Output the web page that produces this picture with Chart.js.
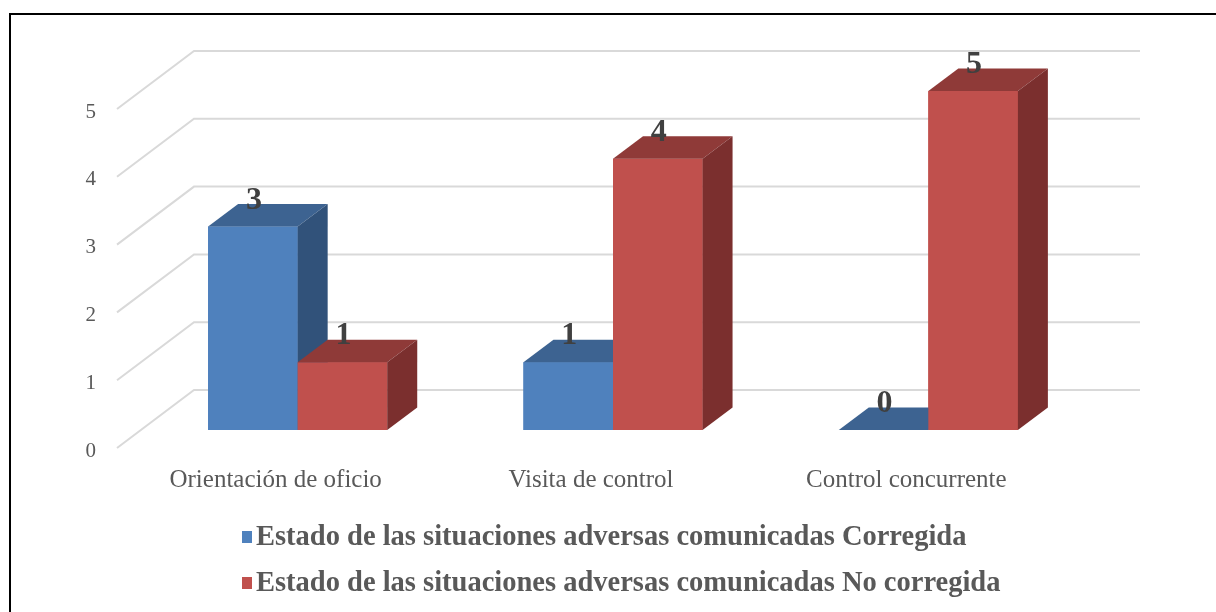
<!DOCTYPE html>
<html>
<head>
<meta charset="utf-8">
<script src="https://cdn.jsdelivr.net/npm/chart.js@4.4.0/dist/chart.umd.min.js"></script>
<style>
  html, body { margin: 0; padding: 0; background: #fff; overflow: hidden; }
  #wrap { position: relative; width: 1216px; height: 612px; }
  #marco { position: absolute; left: 9px; top: 13px; width: 1300px; height: 700px; border: 2px solid #000; box-sizing: border-box; }
  #caja-grafico { position: absolute; left: 0; top: 0; width: 1216px; height: 612px; }
  .leyenda { position: absolute; left: 242px; font: bold 28.5px "Liberation Serif", serif; color: #595959; white-space: nowrap; line-height: 1; }
  .leyenda .caja { display: inline-block; width: 10px; height: 12px; margin-right: 4px; vertical-align: 2px; }
</style>
</head>
<body>
<div id="wrap">
  <div id="marco"></div>
  <div id="caja-grafico"><canvas id="grafico"></canvas></div>
  <div class="leyenda" style="top:522px"><span class="caja" style="background:#4F81BD"></span><span id="ley0"></span></div>
  <div class="leyenda" style="top:568px"><span class="caja" style="background:#C0504D"></span><span id="ley1"></span></div>
</div>
<script>
const categorias = ['Orientación de oficio', 'Visita de control', 'Control concurrente'];
const corregida = [3, 1, 0];
const noCorregida = [1, 4, 5];
const ticksY = [0, 1, 2, 3, 4, 5];
const nombresSeries = [
  'Estado de las situaciones adversas comunicadas Corregida',
  'Estado de las situaciones adversas comunicadas No corregida'
];

// colores: frente, tapa, lado
const coloresSeries = [
  ['#4F81BD', '#3D6391', '#31527A'],
  ['#C0504D', '#8F3A38', '#7B2F2E']
];

document.getElementById('ley0').textContent = nombresSeries[0];
document.getElementById('ley1').textContent = nombresSeries[1];

// desplazamientos de la vista oblicua
const PROF_X = 30, PROF_Y = -22.5;   // fondo de cada barra
const FONDO_X = 54, FONDO_Y = -40;   // pared del fondo
const FRENTE_X = -23, FRENTE_Y = 18; // borde delantero del piso

const barras3d = {
  id: 'barras3d',
  beforeDatasetsDraw(chart) {
    const ctx = chart.ctx, a = chart.chartArea, y = chart.scales.y;
    ctx.save();
    ctx.strokeStyle = '#D9D9D9';
    ctx.lineWidth = 2;
    ticksY.forEach(v => {
      const py = y.getPixelForValue(v);
      ctx.beginPath();
      ctx.moveTo(a.left + FRENTE_X, py + FRENTE_Y);
      ctx.lineTo(a.left + FONDO_X, py + FONDO_Y);
      ctx.lineTo(a.right + FONDO_X, py + FONDO_Y);
      ctx.stroke();
    });
    ctx.restore();
  },
  afterDatasetsDraw(chart) {
    const ctx = chart.ctx;
    const lista = [];
    chart.data.datasets.forEach((ds, i) => {
      chart.getDatasetMeta(i).data.forEach((bar, j) => {
        lista.push({ bar, col: coloresSeries[i], valor: ds.data[j] });
      });
    });
    lista.sort((p, q) => p.bar.x - q.bar.x);
    ctx.save();
    lista.forEach(({ bar, col }) => {
      const L = bar.x - bar.width / 2, R = bar.x + bar.width / 2;
      const T = bar.y, B = bar.base;
      // frente
      ctx.fillStyle = col[0];
      ctx.fillRect(L, T, R - L, B - T);
      // tapa
      ctx.fillStyle = col[1];
      ctx.beginPath();
      ctx.moveTo(L, T);
      ctx.lineTo(R, T);
      ctx.lineTo(R + PROF_X, T + PROF_Y);
      ctx.lineTo(L + PROF_X, T + PROF_Y);
      ctx.closePath();
      ctx.fill();
      // lado
      if (B - T > 0) {
        ctx.fillStyle = col[2];
        ctx.beginPath();
        ctx.moveTo(R, T);
        ctx.lineTo(R + PROF_X, T + PROF_Y);
        ctx.lineTo(R + PROF_X, B + PROF_Y);
        ctx.lineTo(R, B);
        ctx.closePath();
        ctx.fill();
      }
    });
    // etiquetas de valor
    ctx.fillStyle = '#404040';
    ctx.font = 'bold 32px "Liberation Serif", serif';
    ctx.textAlign = 'center';
    ctx.textBaseline = 'alphabetic';
    lista.forEach(({ bar, valor }) => {
      ctx.fillText(String(valor), bar.x + 1, bar.y - 18);
    });
    ctx.restore();
  }
};

const ctx = document.getElementById('grafico').getContext('2d');

new Chart(ctx, {
  type: 'bar',
  data: {
    labels: categorias,
    datasets: [
      { label: nombresSeries[0], data: corregida, backgroundColor: coloresSeries[0][0] },
      { label: nombresSeries[1], data: noCorregida, backgroundColor: coloresSeries[1][0] }
    ]
  },
  options: {
    responsive: true,
    maintainAspectRatio: false,
    animation: false,
    layout: { padding: { top: 91, right: 130, left: 0, bottom: 0 } },
    datasets: { bar: { barPercentage: 1, categoryPercentage: 0.568 } },
    plugins: {
      legend: { display: false },
      tooltip: { enabled: false }
    },
    scales: {
      x: {
        grid: { display: false, drawTicks: false },
        border: { display: false },
        ticks: {
          padding: 35,
          labelOffset: -22,
          color: '#595959',
          font: { family: '"Liberation Serif", serif', size: 25 }
        },
        afterFit: s => { s.height = 182; }
      },
      y: {
        min: 0,
        max: 5,
        grid: { display: false, drawTicks: false },
        border: { display: false },
        ticks: {
          stepSize: 1,
          padding: 44,
          labelOffset: 21,
          color: '#595959',
          font: { family: '"Liberation Serif", serif', size: 21 }
        },
        afterFit: s => { s.width = 140; }
      }
    }
  },
  plugins: [barras3d]
});
</script>
</body>
</html>
